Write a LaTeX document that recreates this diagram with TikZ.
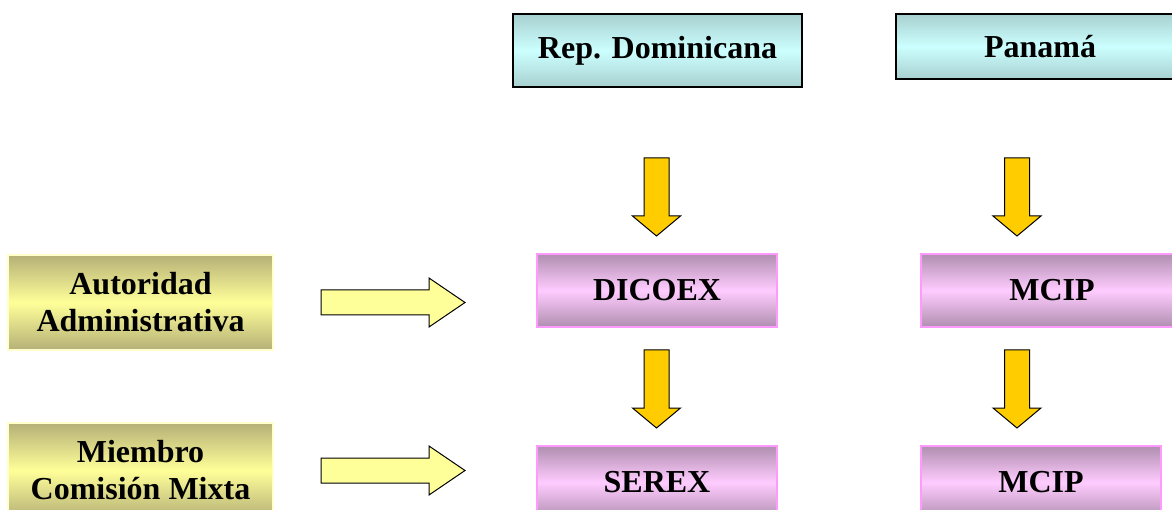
\documentclass[tikz,border=0pt]{standalone}
\usepackage{fontspec}
\setmainfont{Liberation Serif}
\usepackage{tikz}

\definecolor{tealdark}{HTML}{A8D0D0}
\definecolor{cyanlight}{HTML}{CCFFFF}
\definecolor{olivedark}{HTML}{B5B077}
\definecolor{yellowlight}{HTML}{FFFF99}
\definecolor{mauvedark}{HTML}{B08FB0}
\definecolor{pinklight}{HTML}{FFCCFF}
\definecolor{pinkline}{HTML}{FF99FF}
\definecolor{paleline}{HTML}{FFFFCC}
\definecolor{gold}{HTML}{FFCC00}

\tikzset{
  country/.style={draw=black,line width=1.3pt,rectangle,top color=tealdark,bottom color=tealdark,middle color=cyanlight,minimum height=73pt},
  role/.style={draw=paleline,line width=1.5pt,rectangle,top color=olivedark,bottom color=olivedark,middle color=yellowlight,minimum width=265pt,minimum height=95pt,align=center},
  office/.style={draw=pinkline,line width=1.5pt,rectangle,top color=mauvedark,bottom color=mauvedark,middle color=pinklight,minimum height=73pt},
  downarrow/.style={draw=black,line width=1pt,fill=gold},
  rightarrow/.style={draw=black,line width=1pt,fill=yellowlight}
}

\begin{document}
\begin{tikzpicture}[x=1pt,y=-1pt,font=\bfseries\fontsize{32}{37}\selectfont]
\useasboundingbox (0,0) rectangle (1172,510);

\node [country,minimum width=289pt] (rep) at(657.5,50.5){Rep. Dominicana};
\node [country,minimum width=288pt,minimum height=65pt] (pan) at(1040,46.5){Panamá};

\node [role] (aut) at(140.5,302.5){Autoridad\\Administrativa};
\node [role] (mie) at(140.5,470.5){Miembro\\Comisión Mixta};

\node [office,minimum width=240pt] (dic) at(657,290.5){DICOEX};
\node [office,minimum width=262pt] (mcipa) at(1052,290.5){MCIP};
\node [office,minimum width=240pt] (ser) at(657,482.5){SEREX};
\node [office,minimum width=240pt] (mcipb) at(1041,482.5){MCIP};

%block arrows down
\foreach \x/\y in {656.5/158,1017/158,656.5/350,1017/350}
  \draw[downarrow] (\x-12.5,\y) -- (\x+12.5,\y) -- (\x+12.5,\y+58) -- (\x+24,\y+58)
    -- (\x,\y+78) -- (\x-24,\y+58) -- (\x-12.5,\y+58) -- cycle;

%block arrows right
\foreach \y in {302.5,470.5}
  \draw[rightarrow] (321,\y-12.5) -- (429,\y-12.5) -- (429,\y-24.5) -- (465,\y)
    -- (429,\y+24.5) -- (429,\y+12.5) -- (321,\y+12.5) -- cycle;

\end{tikzpicture}
\end{document}
